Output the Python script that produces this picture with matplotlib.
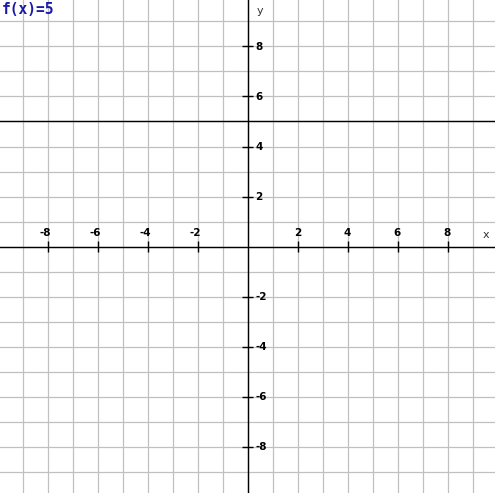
import numpy as np
import matplotlib.pyplot as plt

# f(x) = 5, drawn as a horizontal line over the visible range
func_label = "f(x)=5"
line_x = [-10, 10]
line_y = [5, 5]

grid_vals = list(range(-9, 10))
tick_vals = [-8, -6, -4, -2, 2, 4, 6, 8]

fig = plt.figure(figsize=(4.95, 4.93), dpi=100)
ax = fig.add_axes([0, 0, 1, 1])
ax.set_xlim(-9.9, 9.9)
ax.set_ylim(-9.86, 9.86)

# light grid every unit
ax.set_xticks(grid_vals)
ax.set_yticks(grid_vals)
ax.grid(True, color="#c0c0c0", linewidth=0.9)
ax.tick_params(length=0, labelbottom=False, labelleft=False)
for s in ax.spines.values():
    s.set_visible(False)

# axes
ax.axhline(0, color="black", linewidth=1.0)
ax.axvline(0, color="black", linewidth=1.0)

# tick marks
ax.vlines(tick_vals, -0.22, 0.22, color="black", linewidth=1.0)
ax.hlines(tick_vals, -0.22, 0.22, color="black", linewidth=1.0)

lab = dict(fontsize=7.5, fontweight="bold", family="DejaVu Sans")
for v in tick_vals:
    ax.text(v + 0.14, 0.54, str(v), ha="right", va="center", **lab)
    ax.text(0.3, v, str(v), ha="left", va="center", **lab)

ax.text(9.55, 0.45, "x", ha="center", va="center", fontsize=8, color="#333333")
ax.text(0.5, 9.4, "y", ha="center", va="center", fontsize=8, color="#333333")

# the function
ax.plot(line_x, line_y, color="black", linewidth=1.0)

fig.text(0.004, 0.995, func_label, ha="left", va="top", fontsize=10.5,
         fontweight="bold", family="DejaVu Sans Mono", color="#1a1aa8")

fig.savefig("out.png", dpi=100)
